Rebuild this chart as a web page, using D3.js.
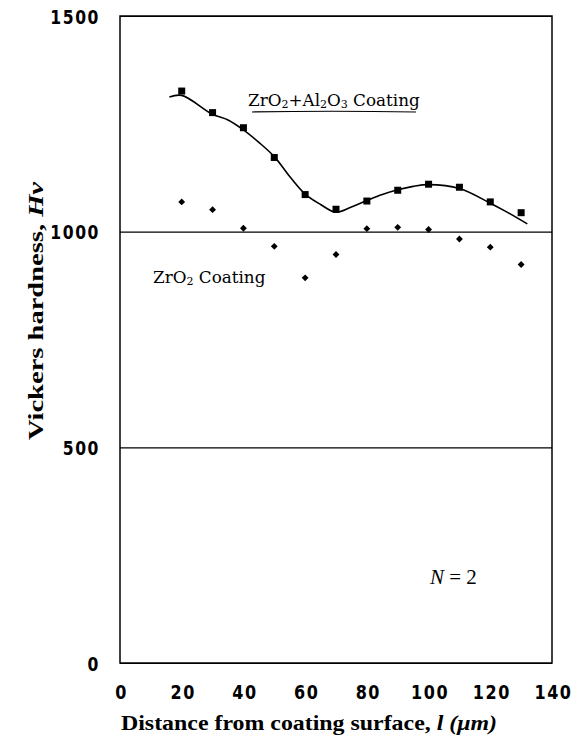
<!DOCTYPE html>
<html>
<head>
<meta charset="utf-8">
<script src="https://cdn.jsdelivr.net/npm/d3@7"></script>
<style>
  body { margin: 0; background: #fff; }
  .tick-lbl { font-family: 'DejaVu Sans', sans-serif; font-weight: bold; font-size: 20px; letter-spacing: 2px; fill: #000; }
  .serif { font-family: 'Liberation Serif', 'DejaVu Serif', serif; fill: #000; }
  .century { font-family: 'DejaVu Serif', 'Liberation Serif', serif; fill: #000; }
</style>
</head>
<body>
<div class="canvas"></div>
<script>
const width = 587;
const height = 745;

// tick labels
const xTicks = [0, 20, 40, 60, 80, 100, 120, 140];
const yTicks = [0, 500, 1000, 1500];

// measured points
const depth = [20, 30, 40, 50, 60, 70, 80, 90, 100, 110, 120, 130];
const hvMixed = [1326, 1276, 1241, 1172, 1086, 1052, 1071, 1096, 1110, 1103, 1069, 1044];
const hvZrO2 = [1069, 1051, 1008, 966, 893, 947, 1007, 1010, 1005, 983, 964, 924];

// fitted curve for ZrO2+Al2O3 coating
const fitX = [16, 20, 30, 35, 40, 45, 50, 55, 60, 65, 70, 75, 80, 85, 90, 95, 100, 110, 120, 125, 132];
const fitY = [1312, 1316, 1272, 1259, 1236, 1207, 1174, 1128, 1087, 1063, 1045, 1057, 1072, 1086, 1097, 1105, 1109, 1100, 1066, 1047, 1018];

const plotL = 120, plotR = 552, plotT = 16, plotB = 663;

const canvas = d3
  .select('.canvas')
  .append('svg')
  .attr('width', width)
  .attr('height', height);

const xScale = d3.scaleLinear().domain([0, 140]).range([plotL, plotR]);
const yScale = d3.scaleLinear().domain([0, 1500]).range([plotB, plotT]);

// grid lines + y labels
const yAxis = d3.axisLeft(yScale).tickValues(yTicks).tickSize(-(plotR - plotL)).tickFormat(d3.format('d'));
const yG = canvas.append('g').attr('transform', `translate(${plotL},0)`).call(yAxis);
yG.select('.domain').remove();
yG.attr('font-size', null).attr('font-family', null);
yG.selectAll('line').attr('stroke', '#000').attr('stroke-width', 1.2);
// labels are narrow and tall in the original
yG.selectAll('text')
  .attr('class', 'tick-lbl')
  .attr('x', 0)
  .attr('dy', '0.36em')
  .attr('transform', 'translate(-20,0) scale(0.78,1)');

// x labels
const xAxis = d3.axisBottom(xScale).tickValues(xTicks).tickSize(0).tickFormat(d3.format('d'));
const xG = canvas.append('g').attr('transform', `translate(0,${plotB})`).call(xAxis);
xG.select('.domain').remove();
xG.attr('font-size', null).attr('font-family', null);
xG.selectAll('text')
  .attr('class', 'tick-lbl')
  .attr('y', 0)
  .attr('dy', '0.36em')
  .attr('transform', 'translate(1,29) scale(0.8,1)');

// frame
canvas.append('rect')
  .attr('x', plotL).attr('y', plotT)
  .attr('width', plotR - plotL).attr('height', plotB - plotT)
  .attr('fill', 'none').attr('stroke', '#000').attr('stroke-width', 1.5);

// fitted curve
const fit = fitX.map((x, i) => [x, fitY[i]]);
canvas.append('path')
  .datum(fit)
  .attr('fill', 'none')
  .attr('stroke', '#000')
  .attr('stroke-width', 1.6)
  .attr('d', d3.line().x(d => xScale(d[0])).y(d => yScale(d[1])).curve(d3.curveCatmullRom));

// squares
canvas.selectAll('rect.sq')
  .data(depth)
  .enter()
  .append('rect')
  .attr('class', 'sq')
  .attr('x', d => xScale(d) - 3.5)
  .attr('y', (d, i) => yScale(hvMixed[i]) - 3.5)
  .attr('width', 7).attr('height', 7)
  .attr('fill', '#000');

// diamonds
const diamond = d3.symbol().type(d3.symbolDiamond2).size(30);
canvas.selectAll('path.dm')
  .data(depth)
  .enter()
  .append('path')
  .attr('class', 'dm')
  .attr('transform', (d, i) => `translate(${xScale(d)},${yScale(hvZrO2[i])})`)
  .attr('d', diamond)
  .attr('fill', '#000');

// series labels
const lbl1 = canvas.append('text').attr('class', 'century').attr('x', 248).attr('y', 106).attr('font-size', 16.8);
lbl1.append('tspan').text('ZrO');
lbl1.append('tspan').text('2').attr('font-size', 11).attr('dy', 2);
lbl1.append('tspan').text('+Al').attr('dy', -2);
lbl1.append('tspan').text('2').attr('font-size', 11).attr('dy', 2);
lbl1.append('tspan').text('O').attr('dy', -2);
lbl1.append('tspan').text('3').attr('font-size', 11).attr('dy', 2);
lbl1.append('tspan').text(' Coating').attr('dy', -2);

canvas.append('path')
  .attr('d', 'M252,112 Q330,110.5 416,112')
  .attr('fill', 'none').attr('stroke', '#000').attr('stroke-width', 1.2);

const lbl2 = canvas.append('text').attr('class', 'century').attr('x', 153).attr('y', 283).attr('font-size', 16.8);
lbl2.append('tspan').text('ZrO');
lbl2.append('tspan').text('2').attr('font-size', 11).attr('dy', 2);
lbl2.append('tspan').text(' Coating').attr('dy', -2);

const nLbl = canvas.append('text').attr('class', 'serif').attr('x', 430).attr('y', 584).attr('font-size', 21);
nLbl.append('tspan').text('N').attr('font-style', 'italic');
nLbl.append('tspan').text(' = 2');

// axis titles
const yTitle = canvas.append('text')
  .attr('class', 'serif')
  .attr('font-weight', 'bold')
  .attr('font-size', 21)
  .attr('text-anchor', 'middle')
  .attr('transform', 'translate(43,311) rotate(-90)')
  .attr('textLength', 258)
  .attr('lengthAdjust', 'spacingAndGlyphs');
yTitle.append('tspan').text('Vickers hardness, ');
yTitle.append('tspan').text('Hv').attr('font-style', 'italic');

const xTitle = canvas.append('text')
  .attr('class', 'serif')
  .attr('font-weight', 'bold')
  .attr('font-size', 21)
  .attr('x', 121)
  .attr('y', 730)
  .attr('textLength', 376)
  .attr('lengthAdjust', 'spacingAndGlyphs');
xTitle.append('tspan').text('Distance from coating surface, ');
xTitle.append('tspan').text('l (μm)').attr('font-style', 'italic');
</script>
</body>
</html>
